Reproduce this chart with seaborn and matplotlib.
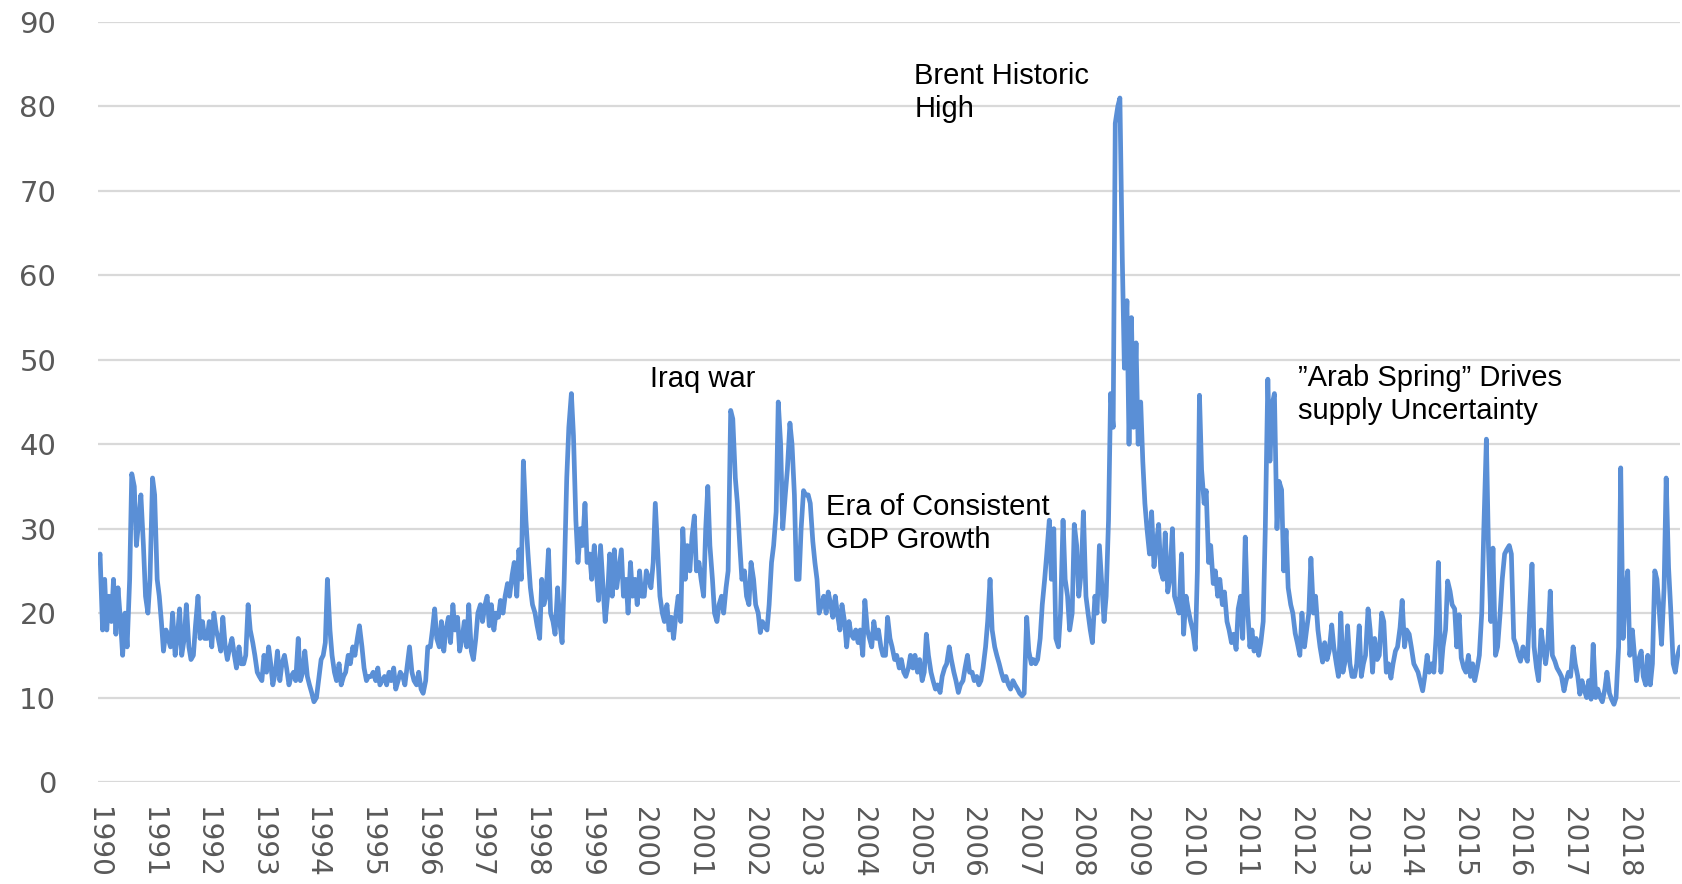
import numpy as np
import pandas as pd
import matplotlib
matplotlib.use("Agg")
import matplotlib.pyplot as plt
import seaborn as sns

# === DANE (co pół miesiąca) ===
vix_1990s = [
    26, 27, 18, 24, 18, 22, 19, 24, 17.5, 23, 19, 15, 20, 16, 24, 36.5, 35, 28, 31, 34, 28, 22, 20, 24,  # 1990
    36, 34, 24, 22, 19, 15.5, 18, 17, 16, 20, 15, 17, 20.5, 15, 17, 21, 16, 14.5, 15, 18.5, 22, 17, 19, 17,  # 1991
    17, 19, 16, 20, 18, 17, 15.5, 19.5, 16, 14.5, 16, 17, 15, 13.5, 16, 14, 14, 15, 21, 18, 16.5, 15, 13, 12.5,  # 1992
    12, 15, 13, 16, 14, 11.5, 13, 15.5, 12, 14, 15, 13.5, 11.5, 12.5, 13, 12, 17, 12, 13, 15.5, 12.5, 11.5, 10.5, 9.5,  # 1993
    10, 12, 14.5, 15, 16.5, 24, 18, 15, 13, 12, 14, 11.5, 12.5, 13, 15, 14, 16, 15, 17, 18.5, 16, 13.5, 12, 12.5,  # 1994
    12.5, 13, 12, 13.5, 11.5, 12, 12.5, 11.5, 13, 12, 13.5, 11, 12, 13, 12.5, 11.5, 14, 16, 13, 12, 11.5, 13, 11, 10.5,  # 1995
    12, 16, 16, 18, 20.5, 17, 16, 19, 15.5, 18, 19.5, 16.5, 21, 18, 19.5, 15.5, 17, 19, 16, 21, 15.5, 14.5, 17, 20,  # 1996
    21, 19, 21, 22, 18.5, 21, 18, 20, 19.5, 21.5, 20, 22, 23.5, 22, 24.5, 26, 22, 27.5, 24, 38, 31, 27, 23, 21,  # 1997
    20, 18.5, 17, 24, 21, 22, 27.5, 20, 19, 17.5, 23, 19, 16.5, 24, 36, 42, 46, 41, 31, 26, 30, 28, 33, 26,  # 1998
    27, 24, 28, 25, 21.5, 28, 23, 19, 22, 27, 22, 27.5, 23, 25, 27.5, 22, 24, 20, 26, 22, 24, 21, 25, 22,  # 1999
]
vix_2000s = [
    22, 25, 24, 23, 26, 33, 27, 22, 20, 19, 21, 18, 19.5, 17, 20, 22, 19, 30, 24, 28, 25, 29, 31.5, 25,  # 2000
    26, 24, 22, 30, 35, 28, 24, 20, 19, 21, 22, 20, 23, 25, 44, 43, 36, 33, 28, 24, 25, 22, 21, 26,  # 2001
    24, 21, 20, 17.7, 19, 18.5, 18, 21, 26, 28, 32, 45, 40, 30, 34, 37, 42.5, 40, 34, 24, 24, 30, 34.5, 34,  # 2002
    34, 33, 28.5, 26, 24, 20, 21, 22, 20, 22.5, 21, 19.5, 22, 20, 18, 21, 19, 16, 19, 17.5, 17, 18, 16.5, 18,  # 2003
    15, 21.5, 18, 17, 16, 19, 17, 18, 16, 15, 15, 19.5, 17, 16, 14.5, 15, 13.5, 14.5, 13, 12.5, 13.5, 15, 13.5, 15,  # 2004
    13, 14.5, 12, 13, 17.5, 15, 13, 12, 11, 11.5, 10.6, 12.5, 13.5, 14, 16, 14.5, 13, 12, 10.6, 11.5, 12, 13.5, 15, 13,  # 2005
    13, 12, 12.5, 11.5, 12, 13.5, 16, 19, 24, 18, 16, 15, 14, 13, 12, 12.5, 11.5, 11, 12, 11.5, 11, 10.5, 10.2, 10.5,  # 2006
    19.5, 15.5, 14, 14.5, 14, 14.5, 17, 21, 24, 27, 31, 24, 30, 17, 16, 20, 31, 24, 22, 18, 20, 30.5, 28, 22,  # 2007
    25, 32, 22, 20, 18, 16.5, 22, 20, 28, 24, 19, 22, 31, 46, 42, 78, 80, 81, 62, 49, 57, 40, 55, 42,  # 2008
    52, 40, 45, 38, 33, 30, 27, 32, 25.5, 28, 30.5, 25, 24, 29.5, 22.5, 24, 30, 22, 21, 20, 27, 17.5, 22, 20.5,  # 2009
]
vix_2010s = [
    19, 18, 15.7, 25, 45.8, 37, 33, 34.5, 26, 28, 23.5, 25, 22, 24, 21, 22.5, 19, 18, 16.5, 17.5, 15.7, 20.5, 22, 17,  # 2010
    29, 21, 16, 18, 15.5, 17, 15, 16.5, 19, 30, 47.7, 38, 44.8, 46, 30, 35.6, 34.6, 25, 29.8, 23, 21, 20, 17.6, 16.5,  # 2011
    15, 20, 16, 18, 20, 26.5, 20, 22, 18, 16, 14.2, 16.5, 14.5, 15.5, 18.6, 16, 14, 12.5, 20, 13, 14.5, 18.5, 14, 12.5,  # 2012
    12.5, 14, 18.5, 12.5, 14, 15, 20.5, 18, 13, 17, 14.5, 15, 20, 19, 13, 14, 12.3, 14, 15.5, 16, 18.3, 21.5, 16, 18,  # 2013
    17.5, 16, 14, 13.5, 13, 12, 10.8, 12.5, 15, 13, 14, 13, 17.5, 26, 13, 16, 18, 23.8, 22.6, 21, 20.5, 16, 19.8, 14.7,  # 2014
    13.5, 13, 15, 12.5, 14, 12, 13.5, 15, 20, 30, 40.6, 27.7, 19, 27.7, 15, 16, 20, 24, 27, 27.5, 28, 27, 17, 16.3,  # 2015
    15, 14.3, 16, 15, 14.3, 20, 25.8, 16, 13.5, 12, 18, 16, 14, 16, 22.6, 15, 14.3, 13.5, 13, 12.5, 10.8, 12, 13, 12.5,  # 2016
    16, 14, 12.5, 10.4, 12, 11, 10, 12, 9.8, 16.3, 10, 11, 10, 9.5, 11, 13, 10.5, 9.8, 9.2, 10, 16, 37.2, 17, 22,  # 2017
    25, 15, 18, 15, 12, 14.5, 15.5, 12.5, 11.5, 15, 11.5, 14, 25, 24, 20, 16.3, 23, 36, 25.4, 20.6, 14, 13, 15, 16,  # 2018
]
years = list(range(1990, 2019))
y_ticks = [0, 10, 20, 30, 40, 50, 60, 70, 80, 90]

# adnotacje: (tekst, rok, wartość)
notes = [
    ("Brent Historic\nHigh", 2004.94, 81.6),
    ("Iraq war", 2000.11, 47.7),
    ("Era of Consistent\nGDP Growth", 2003.33, 30.65),
    ("\u201dArab Spring\u201d Drives\nsupply Uncertainty", 2011.97, 45.9),
]

# === PRZYGOTOWANIE SERII ===
values = vix_1990s + vix_2000s + vix_2010s
dates = pd.date_range("1990-01-01", periods=len(values), freq="SMS")
df = pd.DataFrame({"date": dates, "value": values})

def year_to_date(y):
    return pd.Timestamp("1990-01-01") + pd.Timedelta(days=(y - 1990) * 365.25)

# === WYKRES ===
sns.set_style("white")
plt.rcParams["font.family"] = ["DejaVu Sans"]

fig = plt.figure(figsize=(16.83, 8.84), dpi=100)
ax = fig.add_axes([0.0582, 0.1154, 0.9398, 0.8597])

sns.lineplot(data=df, x="date", y="value", ax=ax, color="#5A8FD6", linewidth=3.4)

ax.set_ylim(0, 90)
ax.set_yticks(y_ticks)
ax.set_xlim(pd.Timestamp("1990-01-01"), year_to_date(2018.95))
ax.set_xticks([pd.Timestamp(f"{y}-01-01") for y in years])
ax.set_xticklabels([str(y) for y in years], rotation=-90)

ax.yaxis.grid(True, color="#D9D9D9", linewidth=1.6)
ax.set_axisbelow(True)
for s in ax.spines.values():
    s.set_visible(False)
ax.tick_params(axis="y", length=0, pad=30, labelsize=21, labelcolor="#595959")
ax.tick_params(axis="x", length=0, pad=18, labelsize=20, labelcolor="#595959")
ax.set_xlabel("")
ax.set_ylabel("")

for txt, yr, val in notes:
    ax.text(year_to_date(yr), val, txt, ha="left", va="center", fontsize=21,
            family="Liberation Sans", color="black", linespacing=1.23)

fig.savefig("out.png", dpi=100)
